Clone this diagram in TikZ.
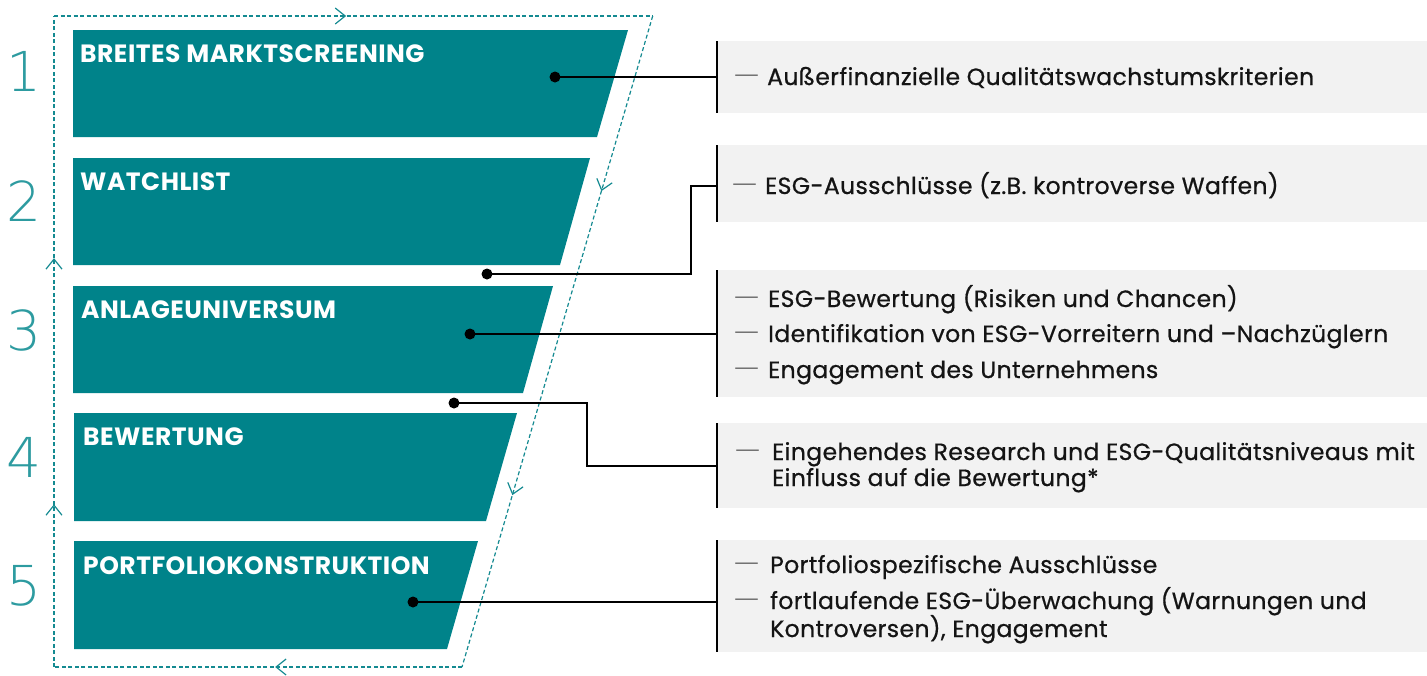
\documentclass[tikz,border=0pt]{standalone}
\usepackage{fontspec}
\setmainfont{Poppins}
\newfontfamily\itemfont[FakeBold=0.7,LetterSpace=1.7]{Poppins}
\newfontfamily\titlefont[LetterSpace=2]{Poppins}
\IfFontExistsTF{FiraSans-ExtraLight.otf}
  {\newfontfamily\numfont{FiraSans-ExtraLight.otf}}
  {\IfFontExistsTF{DejaVuSans-ExtraLight.ttf}
     {\newfontfamily\numfont{DejaVuSans-ExtraLight.ttf}}
     {\newfontfamily\numfont{Fira Sans}}}
\usetikzlibrary{arrows.meta,decorations.markings}
\definecolor{tealfill}{RGB}{0,131,138}
\definecolor{tealdash}{RGB}{20,138,145}
\definecolor{numteal}{RGB}{45,155,160}
\definecolor{graybg}{RGB}{242,242,242}
\definecolor{txt}{RGB}{20,20,20}
\definecolor{dashgray}{RGB}{50,50,50}
\tikzset{
  chev/.tip={Straight Barb[length=10pt,width=16pt,line width=1.2pt]},
  tealbox/.style={fill=tealfill},
  outline/.style={draw=tealdash, line width=1.2pt, dash pattern=on 4pt off 2.5pt},
  title/.style={anchor=base west, text=white, inner sep=0pt, font=\titlefont\fontsize{25}{25}\selectfont\bfseries},
  item/.style={anchor=base west, text=txt, inner sep=0pt, font=\itemfont\fontsize{23.5}{23.5}\selectfont},
  dashmark/.style={anchor=base west, text=dashgray, inner sep=0pt, font=\numfont\fontsize{25}{25}\selectfont},
  num/.style={anchor=base west, text=numteal, inner sep=0pt, font=\numfont\fontsize{55}{55}\selectfont},
  graybox/.style={fill=graybg},
  edgeline/.style={draw=black, line width=1.6pt},
  conn/.style={draw=black, line width=2.8pt, line join=miter},
  dot/.style={circle, fill=black, inner sep=0pt, minimum size=11pt},
}
\begin{document}
\begin{tikzpicture}[x=1pt,y=-1pt]
\useasboundingbox (0,0) rectangle (1427,675);

% dashed cycle outline
\coordinate (oTL) at (54,16);
\coordinate (oTR) at (652.7,16);
\coordinate (oBR) at (462,667);
\coordinate (oBL) at (54,667);
\draw[outline, postaction={decorate}, decoration={markings, mark=at position 0.488 with {\arrow{chev}}}] (oTL) -- (oTR);
\draw[outline, postaction={decorate}, decoration={markings, mark=at position 0.269 with {\arrow{chev}}, mark=at position 0.736 with {\arrow{chev}}}] (oTR) -- (oBR);
\draw[outline, postaction={decorate}, decoration={markings, mark=at position 0.458 with {\arrow{chev}}}] (oBR) -- (oBL);
\draw[outline, postaction={decorate}, decoration={markings, mark=at position 0.25 with {\arrow{chev}}, mark=at position 0.628 with {\arrow{chev}}}] (oBL) -- (oTL);

% teal stage boxes
\fill[tealbox] (73,30) -- (628,30) -- (597,137) -- (73,137) -- cycle;
\fill[tealbox] (73,158) -- (590,158) -- (560,265) -- (73,265) -- cycle;
\fill[tealbox] (73,286) -- (553,286) -- (523,393) -- (73,393) -- cycle;
\fill[tealbox] (74,413) -- (517,413) -- (486,521) -- (74,521) -- cycle;
\fill[tealbox] (74,541) -- (478,541) -- (447,649) -- (74,649) -- cycle;

\node[title] (t1) at (80,62) {BREITES MARKTSCREENING};
\node[title] (t2) at (80,190) {WATCHLIST};
\node[title] (t3) at (81,318) {ANLAGEUNIVERSUM};
\node[title] (t4) at (83,445) {BEWERTUNG};
\node[title] (t5) at (83,574) {PORTFOLIOKONSTRUKTION};

% step numbers
\node[num] (n1) at (6,91) {1};
\node[num] (n2) at (6,221) {2};
\node[num] (n3) at (6,350) {3};
\node[num] (n4) at (6,477) {4};
\node[num] (n5) at (6,605) {5};

% grey description panels
\fill[graybox] (717,41) rectangle (1427,113);
\fill[graybox] (717,145) rectangle (1427,222);
\fill[graybox] (717,270) rectangle (1427,397);
\fill[graybox] (717,423) rectangle (1427,508);
\fill[graybox] (717,540) rectangle (1427,652);
\draw[edgeline] (717,41) -- (717,113);
\draw[edgeline] (717,145) -- (717,222);
\draw[edgeline] (717,270) -- (717,397);
\draw[edgeline] (717,423) -- (717,508);
\draw[edgeline] (717,540) -- (717,652);

% texts
\node[dashmark] (m1) at (734,82) {—};
\node[item] (i1) at (767,85) {Außerfinanzielle Qualitätswachstumskriterien};

\node[dashmark] (m2) at (732,191) {—};
\node[item] (i2) at (765,194) {ESG-Ausschlüsse (z.B. kontroverse Waffen)};

\node[dashmark] (m3a) at (734,304) {—};
\node[item] (i3a) at (768,307) {ESG-Bewertung (Risiken und Chancen)};
\node[dashmark] (m3b) at (734,339) {—};
\node[item] (i3b) at (768,342) {Identifikation von ESG-Vorreitern und –Nachzüglern};
\node[dashmark] (m3c) at (734,375) {—};
\node[item] (i3c) at (768,378) {Engagement des Unternehmens};

\node[dashmark] (m4) at (735,457) {—};
\node[item] (i4a) at (772,460) {Eingehendes Research und ESG-Qualitätsniveaus mit};
\node[item] (i4b) at (772,486) {Einfluss auf die Bewertung*};

\node[dashmark] (m5a) at (734,570) {—};
\node[item] (i5a) at (770,573) {Portfoliospezifische Ausschlüsse};
\node[dashmark] (m5b) at (734,606) {—};
\node[item] (i5b) at (770,609) {fortlaufende ESG-Überwachung (Warnungen und};
\node[item] (i5c) at (770,637) {Kontroversen), Engagement};

% connectors
\node[dot] (d1) at (555,77) {};
\node[dot] (d2) at (487,274) {};
\node[dot] (d3) at (470,334) {};
\node[dot] (d4) at (454,403) {};
\node[dot] (d5) at (413,602) {};
\coordinate (e1) at (717,77);
\coordinate (k2) at (691,186);
\coordinate (e2) at (717,186);
\coordinate (e3) at (717,334);
\coordinate (k4) at (587,466);
\coordinate (e4) at (717,466);
\coordinate (e5) at (717,602);
\draw[conn] (d1.center) -- (e1);
\draw[conn] (d2.center) -| (k2) -- (e2);
\draw[conn] (d3.center) -- (e3);
\draw[conn] (d4.center) -| (k4) -- (e4);
\draw[conn] (d5.center) -- (e5);
\end{tikzpicture}
\end{document}
